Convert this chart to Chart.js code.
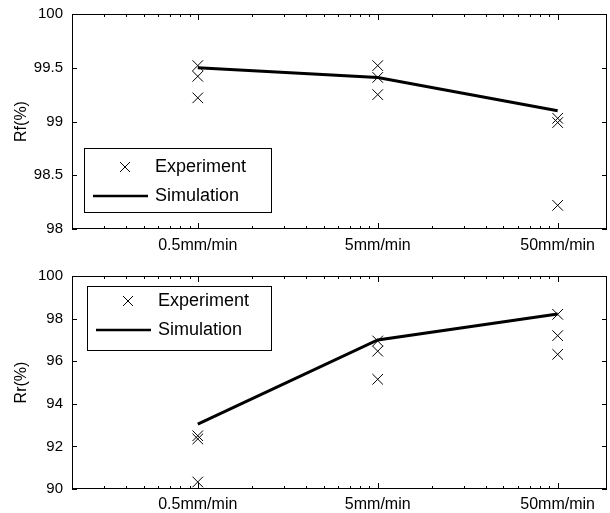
<!DOCTYPE html>
<html>
<head>
<meta charset="utf-8">
<script src="https://cdn.jsdelivr.net/npm/chart.js@4.4.1/dist/chart.umd.min.js"></script>
<style>
  html, body { margin: 0; padding: 0; background: #fff; }
  #wrap { position: relative; width: 610px; height: 513px; }
  canvas { position: absolute; left: 0; }
</style>
</head>
<body>
<div id="wrap">
  <canvas id="chartRf" width="610" height="256" style="top:0px"></canvas>
  <canvas id="chartRr" width="610" height="257" style="top:256px"></canvas>
</div>
<script>
const categories = ['0.5mm/min', '5mm/min', '50mm/min'];
const xPos = [1, 10, 100]; // where the categories sit on the log axis

// upper panel, Rf(%)
const rfExperiment = [
  [99.52, 99.42, 99.22],
  [99.52, 99.41, 99.25],
  [99.03, 98.99, 98.22]
];
const rfSimulation = [99.50, 99.41, 99.10];
const rfTicks = [98, 98.5, 99, 99.5, 100];

// lower panel, Rr(%)
const rrExperiment = [
  [92.50, 92.35, 90.33],
  [96.95, 96.47, 95.15],
  [98.20, 97.20, 96.32]
];
const rrSimulation = [93.05, 97.00, 98.22];
const rrTicks = [90, 92, 94, 96, 98, 100];

const FONT = 'Liberation Sans, Arial, sans-serif';

function expPoints(groups) {
  const pts = [];
  groups.forEach((g, i) => g.forEach(v => pts.push({ x: xPos[i], y: v })));
  return pts;
}

// box, inward ticks (matlab style) and the legend inside the axes
const matlabFrame = {
  id: 'matlabFrame',
  afterDraw(chart, args, opts) {
    const ctx = chart.ctx;
    const a = chart.chartArea;
    const xs = chart.scales.x, ys = chart.scales.y;
    ctx.save();
    ctx.strokeStyle = '#000';
    ctx.lineWidth = 1;
    ctx.strokeRect(a.left + 0.5, a.top + 0.5, a.right - a.left - 1, a.bottom - a.top - 1);
    ctx.beginPath();
    ys.ticks.forEach(t => {
      const y = Math.round(ys.getPixelForValue(t.value)) + 0.5;
      ctx.moveTo(a.left, y); ctx.lineTo(a.left + 5, y);
      ctx.moveTo(a.right, y); ctx.lineTo(a.right - 5, y);
    });
    [0.1, 1, 10, 100].forEach(d => {
      for (let k = 1; k <= 9; k++) {
        const v = d * k;
        if (v <= xs.min || v >= xs.max) continue;
        const len = k === 1 ? 6 : 3;
        const x = Math.round(xs.getPixelForValue(v)) + 0.5;
        ctx.moveTo(x, a.bottom); ctx.lineTo(x, a.bottom - len);
        ctx.moveTo(x, a.top); ctx.lineTo(x, a.top + len);
      }
    });
    ctx.stroke();

    // legend
    const L = opts;
    ctx.fillStyle = '#fff';
    ctx.fillRect(L.left, L.top, L.width, L.height);
    ctx.strokeRect(L.left + 0.5, L.top + 0.5, L.width, L.height);
    ctx.font = '18px ' + FONT;
    ctx.fillStyle = '#000';
    ctx.textBaseline = 'middle';
    const ds = chart.data.datasets;
    const y1 = L.top + L.row1, y2 = L.top + L.row2;
    // experiment marker
    const cx = L.left + 41, r = 5;
    ctx.beginPath();
    ctx.moveTo(cx - r, y1 - r); ctx.lineTo(cx + r, y1 + r);
    ctx.moveTo(cx - r, y1 + r); ctx.lineTo(cx + r, y1 - r);
    ctx.stroke();
    ctx.fillText(ds[0].label, L.left + 71, y1);
    // simulation line
    ctx.lineWidth = 2.5;
    ctx.beginPath();
    ctx.moveTo(L.left + 9, y2); ctx.lineTo(L.left + 64, y2);
    ctx.stroke();
    ctx.fillText(ds[1].label, L.left + 71, y2);
    ctx.restore();
  }
};

function makeChart(id, title, experiment, simulation, yTicks, pad, xHeight, legendBox) {
  return new Chart(document.getElementById(id), {
    type: 'scatter',
    data: {
      datasets: [{
        label: 'Experiment',
        data: expPoints(experiment),
        pointStyle: 'crossRot',
        pointRadius: 7.5,
        pointBorderColor: '#000',
        pointBorderWidth: 1,
        showLine: false
      }, {
        label: 'Simulation',
        data: simulation.map((v, i) => ({ x: xPos[i], y: v })),
        showLine: true,
        borderColor: '#000',
        borderWidth: 3,
        pointRadius: 0
      }]
    },
    options: {
      responsive: false,
      animation: false,
      devicePixelRatio: 1,
      layout: { autoPadding: false, padding: { top: pad.top, right: 3, left: 0, bottom: 0 } },
      plugins: {
        legend: { display: false },
        tooltip: { enabled: false },
        matlabFrame: legendBox
      },
      scales: {
        x: {
          type: 'logarithmic',
          min: 0.2,
          max: 188,
          grid: { display: false, drawTicks: false, tickLength: 0 },
          border: { display: false },
          afterBuildTicks: s => { s.ticks = xPos.map(v => ({ value: v })); },
          afterFit: s => { s.height = xHeight; s.paddingLeft = 0; s.paddingRight = 0; },
          ticks: {
            autoSkip: false,
            maxRotation: 0,
            padding: pad.xlab,
            color: '#000',
            font: { family: FONT, size: 16 },
            callback: v => categories[xPos.indexOf(v)]
          }
        },
        y: {
          min: yTicks[0],
          max: yTicks[yTicks.length - 1],
          grid: { display: false, drawTicks: false, tickLength: 0 },
          border: { display: false },
          afterBuildTicks: s => { s.ticks = yTicks.map(v => ({ value: v })); },
          afterFit: s => { s.width = 72; s.paddingTop = 0; s.paddingBottom = 0; },
          title: {
            display: true,
            text: title,
            color: '#000',
            font: { family: FONT, size: 16 },
            padding: { top: 12, bottom: 0 }
          },
          ticks: {
            padding: 9,
            color: '#000',
            font: { family: FONT, size: 15 },
            callback: v => String(v)
          }
        }
      }
    },
    plugins: [matlabFrame]
  });
}

makeChart('chartRf', 'Rf(%)', rfExperiment, rfSimulation, rfTicks,
  { top: 14, xlab: 7 }, 27,
  { left: 84, top: 148, width: 187, height: 64, row1: 19, row2: 48 });

makeChart('chartRr', 'Rr(%)', rrExperiment, rrSimulation, rrTicks,
  { top: 20, xlab: 6 }, 24,
  { left: 87, top: 30, width: 184, height: 64, row1: 15, row2: 44 });
</script>
</body>
</html>
